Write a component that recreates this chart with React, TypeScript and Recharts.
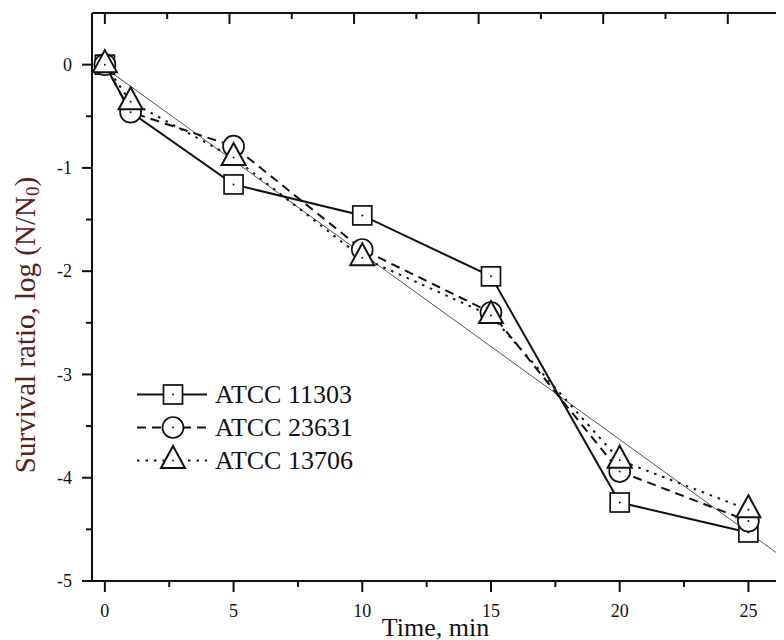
import { Legend, Line, LineChart, XAxis, YAxis } from 'recharts';

// time points (min) and log survival values
const times = [0, 1, 5, 10, 15, 20, 25];
const atcc11303 = [0, -0.46, -1.16, -1.46, -2.05, -4.24, -4.53];
const atcc23631 = [0, -0.46, -0.79, -1.79, -2.4, -3.94, -4.42];
const atcc13706 = [0, -0.36, -0.9, -1.87, -2.43, -3.83, -4.31];

// thin regression line drawn through all strains
const fitTimes = [0, 26.5];
const fitValues = [-0.03, -4.8];

const xTicks = [0, 2.5, 5, 7.5, 10, 12.5, 15, 17.5, 20, 22.5, 25];
const yTicks = [-5, -4.5, -4, -3.5, -3, -2.5, -2, -1.5, -1, -0.5, 0];
// the top frame of the original has its own tick spacing (in minutes)
const topTicks = [0, 2.42, 4.84, 7.26, 9.68, 12.1, 14.52, 16.94, 19.36, 21.78, 24.2];

const X_MIN = -0.5;
const X_MAX = 26.5;
const Y_MIN = -5;
const Y_MAX = 0.5;

const CHART_W = 800;
const CHART_H = 632;
const MARGIN = { top: 4, right: 20, left: 0, bottom: 0 };
const Y_AXIS_W = 84;
const X_AXIS_H = 59;
const PLOT_X = MARGIN.left + Y_AXIS_W;
const PLOT_Y = MARGIN.top + 1;
const PLOT_W = CHART_W - MARGIN.left - MARGIN.right - Y_AXIS_W - 1;
const PLOT_H = CHART_H - MARGIN.top - MARGIN.bottom - X_AXIS_H - 1;
const PX_X = PLOT_W / (X_MAX - X_MIN);
const PX_Y = PLOT_H / (Y_MAX - Y_MIN);

const toRows = (ts: number[], vs: number[]) => ts.map((t, i) => ({ t, v: vs[i] }));
const rows11303 = toRows(times, atcc11303);
const rows23631 = toRows(times, atcc23631);
const rows13706 = toRows(times, atcc13706);
const fitRows = toRows(fitTimes, fitValues);

const FONT = '"Liberation Serif", "Times New Roman", serif';
const INK = '#111';

const BottomTick = ({ x, y, payload }: any) => {
  const major = payload.value % 5 === 0;
  return (
    <g>
      <line x1={x} x2={x} y1={y} y2={y + (major ? 11 : 6)} stroke={INK} strokeWidth={2} />
      {major && (
        <text x={x} y={y + 36} textAnchor="middle" fontSize={18} fontFamily={FONT} fill={INK}>
          {payload.value}
        </text>
      )}
    </g>
  );
};

const LeftTick = ({ x, y, payload }: any) => {
  const major = payload.value % 1 === 0;
  return (
    <g>
      <line x1={x - (major ? 10 : 6)} x2={x} y1={y} y2={y} stroke={INK} strokeWidth={2} />
      {major && (
        <text x={x - 20} y={y} dy="0.35em" textAnchor="end" fontSize={18} fontFamily={FONT} fill={INK}>
          {payload.value}
        </text>
      )}
    </g>
  );
};

// inward ticks on the top and right edges of the frame, laid over the chart
const FrameTicks = () => (
  <svg
    width={CHART_W}
    height={CHART_H}
    style={{ position: 'absolute', left: 0, top: 0, zIndex: 5, pointerEvents: 'none' }}
  >
    {topTicks.map((t, i) => {
      const x = PLOT_X + (t - X_MIN) * PX_X;
      return (
        <rect key={`t${i}`} x={x - 1} y={PLOT_Y} width={2} height={i % 2 === 0 ? 11 : 6} fill={INK} />
      );
    })}
    {yTicks.map((v) => {
      const y = PLOT_Y + (Y_MAX - v) * PX_Y;
      const len = v % 1 === 0 ? 10 : 6;
      return <rect key={`r${v}`} x={PLOT_X + PLOT_W - len} y={y - 1} width={len} height={2} fill={INK} />;
    })}
  </svg>
);

const XLabel = ({ viewBox }: any) => (
  <text
    x={viewBox.x + viewBox.width / 2 - 4}
    y={viewBox.y + 55}
    textAnchor="middle"
    fontSize={26}
    fontFamily={FONT}
    fill={INK}
  >
    Time, min
  </text>
);

const YLabel = ({ viewBox }: any) => {
  const cx = viewBox.x + 17;
  const cy = viewBox.y + viewBox.height / 2 + 28;
  return (
    <text
      x={cx}
      y={cy}
      transform={`rotate(-90 ${cx} ${cy})`}
      textAnchor="middle"
      dominantBaseline="central"
      fontSize={29}
      fontFamily={FONT}
      fill="#5a2218"
    >
      Survival ratio, log (N/N
      <tspan fontSize={19} dy={7}>0</tspan>
      <tspan dy={-7}>)</tspan>
    </text>
  );
};

const square = (cx: number, cy: number, key?: string) => (
  <g key={key}>
    <rect x={cx - 9.5} y={cy - 9.5} width={19} height={19} fill="#fff" stroke={INK} strokeWidth={1.7} />
    <circle cx={cx} cy={cy} r={1} fill={INK} />
  </g>
);

const circle = (cx: number, cy: number, key?: string) => (
  <g key={key}>
    <circle cx={cx} cy={cy} r={10.5} fill="#fff" stroke={INK} strokeWidth={1.7} />
    <circle cx={cx} cy={cy} r={1} fill={INK} />
  </g>
);

const triangle = (cx: number, cy: number, key?: string) => (
  <g key={key}>
    <path
      d={`M${cx},${cy - 14.5} L${cx + 12},${cy + 7.5} L${cx - 12},${cy + 7.5} Z`}
      fill="#fff"
      stroke={INK}
      strokeWidth={2}
      strokeLinejoin="miter"
    />
    <circle cx={cx} cy={cy} r={1} fill={INK} />
  </g>
);

// the square at t = 1 is not visible in the original (covered by the other markers)
const squareDot = (p: any) =>
  p.payload.t === 1 ? <g key={`sq-${p.index}`} /> : square(p.cx, p.cy, `sq-${p.index}`);
const circleDot = (p: any) => circle(p.cx, p.cy, `ci-${p.index}`);
const triangleDot = (p: any) => triangle(p.cx, p.cy, `tr-${p.index}`);

const legendItems = [
  { name: 'ATCC 11303', dash: undefined, mark: square },
  { name: 'ATCC 23631', dash: '9 6', mark: circle },
  { name: 'ATCC 13706', dash: '2.5 6', mark: triangle },
];

const LegendBox = () => (
  <div style={{ fontFamily: FONT }}>
    {legendItems.map((it) => (
      <div key={it.name} style={{ display: 'flex', alignItems: 'center', height: 33 }}>
        <svg width={78} height={33}>
          <line x1={0} x2={70} y1={16.5} y2={16.5} stroke={INK} strokeWidth={2} strokeDasharray={it.dash} />
          {it.mark(36, 16.5)}
        </svg>
        <span style={{ fontSize: 26, color: INK, lineHeight: '33px' }}>{it.name}</span>
      </div>
    ))}
  </div>
);

export default function App() {
  return (
    <div style={{ position: 'relative', width: 776, height: CHART_H, overflow: 'hidden' }}>
      <LineChart width={CHART_W} height={CHART_H} margin={MARGIN}>
        <XAxis
          xAxisId="top"
          orientation="top"
          type="number"
          domain={[X_MIN, X_MAX]}
          height={1}
          tick={false}
          tickLine={false}
          axisLine={{ stroke: INK, strokeWidth: 2 }}
        />
        <YAxis
          yAxisId="r"
          orientation="right"
          type="number"
          domain={[Y_MIN, Y_MAX]}
          width={1}
          tick={false}
          tickLine={false}
          axisLine={{ stroke: INK, strokeWidth: 2 }}
        />
        <XAxis
          xAxisId="b"
          dataKey="t"
          type="number"
          domain={[X_MIN, X_MAX]}
          ticks={xTicks}
          interval={0}
          allowDataOverflow
          height={X_AXIS_H}
          tickSize={0}
          tickMargin={0}
          tickLine={false}
          axisLine={{ stroke: INK, strokeWidth: 2 }}
          tick={<BottomTick />}
          label={{ content: (p: any) => <XLabel viewBox={p.viewBox} /> }}
        />
        <YAxis
          yAxisId="l"
          type="number"
          domain={[Y_MIN, Y_MAX]}
          ticks={yTicks}
          interval={0}
          allowDataOverflow
          width={Y_AXIS_W}
          tickSize={0}
          tickMargin={0}
          tickLine={false}
          axisLine={{ stroke: INK, strokeWidth: 2 }}
          tick={<LeftTick />}
          label={{ content: (p: any) => <YLabel viewBox={p.viewBox} /> }}
        />
        <Legend
          layout="horizontal"
          verticalAlign="middle"
          align="center"
          content={<LegendBox />}
          wrapperStyle={{ left: 129, top: 369.5, width: 280 }}
        />
        <Line
          xAxisId="b"
          yAxisId="l"
          data={fitRows}
          dataKey="v"
          stroke="#555"
          strokeWidth={1}
          dot={false}
          legendType="none"
          isAnimationActive={false}
        />
        <Line
          xAxisId="b"
          yAxisId="l"
          data={rows11303}
          dataKey="v"
          name="ATCC 11303"
          stroke={INK}
          strokeWidth={2}
          dot={squareDot}
          isAnimationActive={false}
        />
        <Line
          xAxisId="b"
          yAxisId="l"
          data={rows23631}
          dataKey="v"
          name="ATCC 23631"
          stroke={INK}
          strokeWidth={2}
          strokeDasharray="9 6"
          dot={circleDot}
          isAnimationActive={false}
        />
        <Line
          xAxisId="b"
          yAxisId="l"
          data={rows13706}
          dataKey="v"
          name="ATCC 13706"
          stroke={INK}
          strokeWidth={2}
          strokeDasharray="2.5 6"
          dot={triangleDot}
          isAnimationActive={false}
        />
      </LineChart>
      <FrameTicks />
    </div>
  );
}
